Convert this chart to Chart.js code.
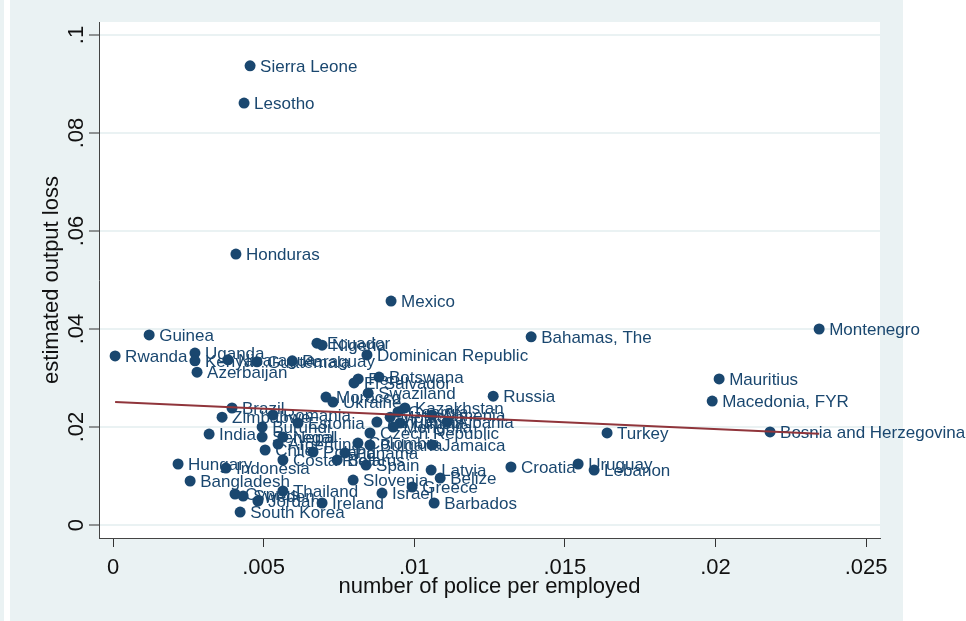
<!DOCTYPE html>
<html>
<head>
<meta charset="utf-8">
<script src="https://cdn.jsdelivr.net/npm/chart.js@4.4.1/dist/chart.umd.min.js"></script>
<style>
  html, body { margin:0; padding:0; background:#fff; }
  #wrap { position:relative; width:966px; height:621px; overflow:hidden; }
  #edge { position:absolute; left:0; top:0; width:4px; height:621px; background:#eaf2f3; }
  #bg { position:absolute; left:10px; top:0; width:893px; height:621px; background:#eaf2f3; }
  canvas { position:absolute; left:0; top:0; }
</style>
</head>
<body>
<div id="wrap">
  <div id="edge"></div>
  <div id="bg"></div>
  <canvas id="chart" width="966" height="621"></canvas>
</div>
<script>
// country labels, police per employed (x), estimated output loss (y)
const countries = [
  'Sierra Leone','Lesotho','Honduras','Mexico','Montenegro','Bahamas, The','Guinea','Ecuador','Nigeria','Rwanda',
  'Uganda','Dominican Republic','Kenya','Nicaragua','Guatemala','Paraguay','Azerbaijan','Botswana','Peru','El Salvador',
  'Swaziland','Morocco','Ukraine','Russia','Kazakhstan','Mauritius','Macedonia, FYR','Bosnia and Herzegovina','Turkey','Uruguay',
  'Lebanon','Croatia','Brazil','Zimbabwe','Romania','Burundi','Estonia','India','Senegal','Nepal',
  'Argentina','Chile','Costa Rica','Poland','Belarus','Hungary','Indonesia','Bangladesh','Thailand','Cyprus',
  'Sweden','Jordan','South Korea','Ireland','Slovenia','Israel','Greece','Latvia','Belize','Barbados',
  'Spain','Colombia','Czech Republic','Bulgaria','Lithuania','Moldova','Georgia','Armenia','Albania','Jamaica',
  'Tunisia','Mongolia','Panama'
];
const police = [
  0.00455,0.00435,0.00408,0.00923,0.02344,0.01388,0.00120,0.00677,0.00694,0.00007,
  0.00272,0.00843,0.00272,0.00382,0.00478,0.00595,0.00279,0.00883,0.00814,0.00800,
  0.00847,0.00707,0.00730,0.01262,0.00969,0.02012,0.01989,0.02181,0.01640,0.01544,
  0.01597,0.01321,0.00395,0.00362,0.00531,0.00495,0.00614,0.00319,0.00495,0.00564,
  0.00548,0.00505,0.00564,0.00664,0.00744,0.00216,0.00375,0.00256,0.00564,0.00405,
  0.00432,0.00481,0.00422,0.00694,0.00797,0.00893,0.00993,0.01056,0.01086,0.01066,
  0.00840,0.00813,0.00853,0.00853,0.00876,0.00920,0.00946,0.01059,0.01109,0.01059,
  0.00953,0.00930,0.00770
];
const outputLoss = [
  0.0937,0.0861,0.0553,0.0457,0.0400,0.0384,0.0388,0.0371,0.0367,0.0345,
  0.0351,0.0347,0.0335,0.0337,0.0333,0.0335,0.0312,0.0302,0.0298,0.0290,
  0.0269,0.0261,0.0251,0.0263,0.0239,0.0298,0.0253,0.0190,0.0188,0.01245,
  0.01122,0.01184,0.02388,0.0220,0.02245,0.0200,0.02082,0.01857,0.01796,0.01796,
  0.01653,0.01531,0.01327,0.0149,0.01327,0.01245,0.01163,0.00898,0.00694,0.00633,
  0.00592,0.0049,0.00265,0.00449,0.00918,0.00653,0.00776,0.01122,0.00959,0.00449,
  0.01224,0.01673,0.01878,0.01633,0.02102,0.0220,0.02306,0.02245,0.02102,0.01633,
  0.02082,0.0200,0.0147
];
// fitted line end points
const fitX = [0.00007, 0.02344];
const fitY = [0.0251, 0.0186];

const xTicks = [0, 0.005, 0.01, 0.015, 0.02, 0.025];
const xTickLabels = ['0', '.005', '.01', '.015', '.02', '.025'];
const yTicks = [0, 0.02, 0.04, 0.06, 0.08, 0.1];
const yTickLabels = ['0', '.02', '.04', '.06', '.08', '.1'];

const navy = '#1a476f';
const ink = '#111';

Chart.defaults.font.family = '"Liberation Sans", Arial, sans-serif';

// white plot region
const plotBg = {
  id: 'plotBg',
  beforeDraw(chart){
    const {ctx, chartArea:a} = chart;
    ctx.save();
    ctx.fillStyle = '#fff';
    ctx.fillRect(a.left, a.top, a.right - a.left, a.bottom - a.top);
    ctx.restore();
  }
};

// country names next to the markers
const pointLabels = {
  id: 'pointLabels',
  afterDatasetDraw(chart, args){
    if(args.index !== 1) return;
    const ctx = chart.ctx;
    ctx.save();
    ctx.font = '17px "Liberation Sans", Arial, sans-serif';
    ctx.fillStyle = navy;
    ctx.textBaseline = 'middle';
    args.meta.data.forEach((pt, i) => ctx.fillText(countries[i], pt.x + 10, pt.y + 1));
    ctx.restore();
  }
};

new Chart(document.getElementById('chart'), {
  data: {
    datasets: [
      {
        type: 'line',
        data: fitX.map((x, i) => ({x, y: fitY[i]})),
        borderColor: '#90353b',
        borderWidth: 2,
        pointRadius: 0,
        fill: false,
        order: 1
      },
      {
        type: 'scatter',
        data: police.map((x, i) => ({x, y: outputLoss[i]})),
        backgroundColor: navy,
        borderWidth: 0,
        pointRadius: 5.5,
        order: 2
      }
    ]
  },
  options: {
    responsive: false,
    animation: false,
    layout: { padding: { left: 0, top: 22, right: 86, bottom: 0 } },
    plugins: { legend: { display: false }, tooltip: { enabled: false } },
    scales: {
      x: {
        type: 'linear',
        min: -0.000465,
        max: 0.02546,
        afterBuildTicks: s => { s.ticks = xTicks.map(v => ({value: v})); },
        afterFit: s => { s.height = 83; },
        ticks: {
          callback: (v, i) => xTickLabels[i],
          font: { size: 22 },
          color: ink,
          padding: 8,
          maxRotation: 0,
          autoSkip: false
        },
        grid: { drawOnChartArea: false, tickLength: 9, tickColor: '#333', tickWidth: 1 },
        border: { color: '#444', width: 1 },
        title: {
          display: true,
          text: 'number of police per employed',
          font: { size: 22 },
          color: ink,
          padding: { top: 0, bottom: 21 }
        }
      },
      y: {
        type: 'linear',
        min: -0.00265,
        max: 0.10265,
        afterBuildTicks: s => { s.ticks = yTicks.map(v => ({value: v})); },
        afterFit: s => { s.width = 99; },
        ticks: {
          callback: (v, i) => yTickLabels[i],
          font: { size: 22 },
          color: ink,
          padding: -3,
          minRotation: 90,
          maxRotation: 90,
          crossAlign: 'center',
          autoSkip: false
        },
        grid: { color: '#eaf2f3', lineWidth: 2, tickLength: 10, tickColor: '#333', tickWidth: 1 },
        border: { color: '#444', width: 1 },
        title: {
          display: true,
          text: 'estimated output loss',
          font: { size: 22 },
          color: ink,
          padding: { top: 39, bottom: 0 }
        }
      }
    }
  },
  plugins: [plotBg, pointLabels]
});
</script>
</body>
</html>
